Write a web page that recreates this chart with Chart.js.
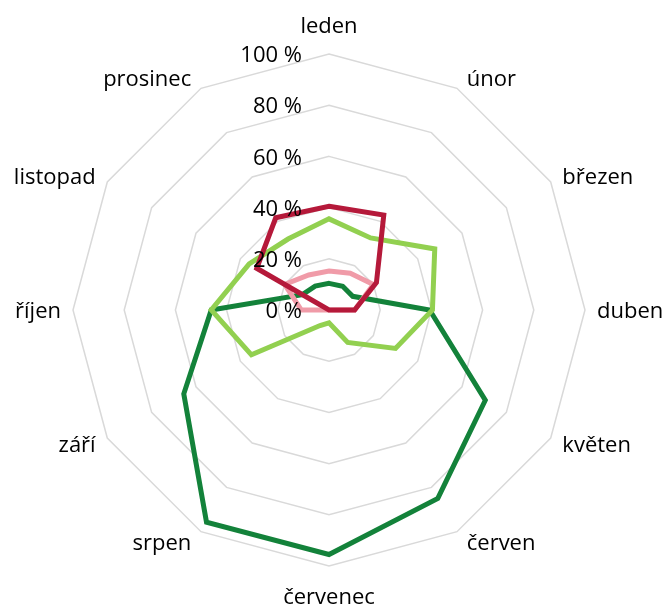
<!DOCTYPE html>
<html>
<head>
<meta charset="utf-8">
<script src="https://cdn.jsdelivr.net/npm/chart.js@4/dist/chart.umd.min.js"></script>
<style>
  html, body { margin: 0; padding: 0; background: #ffffff; }
  canvas { display: block; }
</style>
</head>
<body>
<canvas id="c" width="669" height="606"></canvas>
<script>
// ---- data ----
const months = ['leden', 'únor', 'březen', 'duben', 'květen', 'červen', 'červenec', 'srpen', 'září', 'říjen', 'listopad', 'prosinec'];
const darkGreen  = [10.4, 10.7, 10.7, 39.3, 70.5, 85.0, 95.5, 95.7, 65.5, 46.0, 12.0, 10.8];
const lightGreen = [35.6, 32.5, 47.7, 40.4, 30.0, 14.6, 5.0, 7.0, 35.0, 46.0, 36.0, 32.0];
const darkRed    = [40.5, 42.8, 21.4, 10.0, 0, 0, 0, 0, 0, 0, 32.6, 41.6];
const pink       = [15.2, 16.6, 20.0, 10.0, 0, 0, 0, 0, 0, 10.8, 20.0, 15.8];
const tickValues = [0, 20, 40, 60, 80, 100];
const tickLabels = ['0 %', '20 %', '40 %', '60 %', '80 %', '100 %'];

const FONT = '22px "Open Sans"';

const labelPlugin = {
  id: 'customLabels',
  afterDatasetsDraw(chart) {
    const s = chart.scales.r;
    const ctx = chart.ctx;
    ctx.save();
    ctx.font = FONT;
    ctx.fillStyle = '#000000';
    // tick labels, right-aligned left of the vertical axis
    ctx.textAlign = 'right';
    ctx.textBaseline = 'middle';
    tickValues.forEach((v, i) => {
      const d = s.getDistanceFromCenterForValue(v);
      ctx.fillText(tickLabels[i], s.xCenter - 27, s.yCenter - d + 2);
    });
    // category labels
    months.forEach((m, i) => {
      const a = s.getIndexAngle(i);
      const sin = Math.sin(a), cos = Math.cos(a);
      const p = s.getPointPosition(i, s.drawingArea + 12);
      let x = p.x, y = p.y + 2;
      if (Math.abs(sin) < 0.01) {
        ctx.textAlign = 'center';
        y = cos > 0 ? p.y - 15 : p.y + 20;
      } else {
        ctx.textAlign = sin > 0 ? 'left' : 'right';
        x = p.x + Math.sign(sin) * 5 * cos * cos;
      }
      ctx.fillText(m, x, y);
    });
    ctx.restore();
  }
};

function ds(data, color) {
  return {
    data: data,
    borderColor: color,
    backgroundColor: color,
    borderWidth: 5,
    pointRadius: 0,
    pointHoverRadius: 0,
    fill: false,
    tension: 0,
    borderJoinStyle: 'miter'
  };
}

new Chart(document.getElementById('c'), {
  type: 'radar',
  data: {
    labels: months,
    datasets: [
      ds(darkRed, '#B5193A'),
      ds(pink, '#F09BA8'),
      ds(lightGreen, '#92D050'),
      ds(darkGreen, '#13823A')
    ]
  },
  options: {
    responsive: false,
    animation: false,
    devicePixelRatio: 1,
    layout: { padding: { left: 73, top: 54, right: 84, bottom: 40 } },
    plugins: { legend: { display: false }, tooltip: { enabled: false } },
    elements: { line: { borderJoinStyle: 'miter' } },
    scales: {
      r: {
        min: 0,
        max: 100,
        ticks: { stepSize: 20, display: false },
        pointLabels: { display: false },
        angleLines: { display: false },
        grid: { color: '#D9D9D9', lineWidth: 1.5, circular: false }
      }
    }
  },
  plugins: [labelPlugin]
});
</script>
</body>
</html>
